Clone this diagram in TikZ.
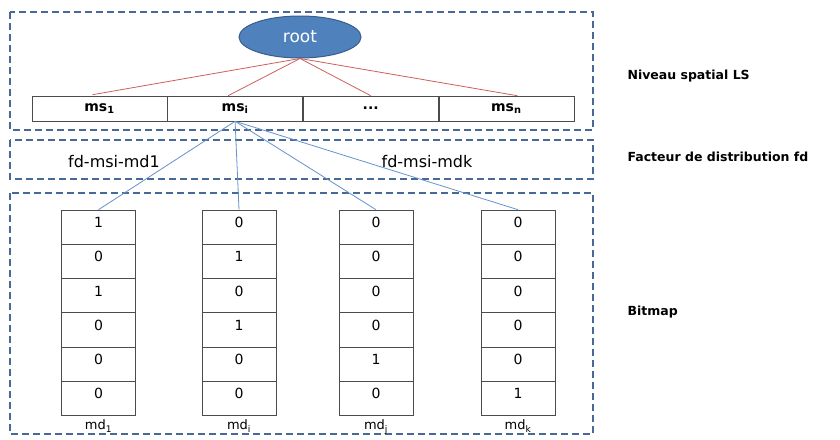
\documentclass[tikz,border=0pt]{standalone}
\usepackage{fontspec}
\setmainfont{DejaVu Sans}
\usetikzlibrary{positioning,shapes.geometric}
\definecolor{zoneblue}{RGB}{70,105,150}
\definecolor{rootfill}{RGB}{79,129,189}
\definecolor{rootline}{RGB}{56,93,138}
\definecolor{lsred}{RGB}{205,95,90}
\definecolor{lsblue}{RGB}{100,145,205}

\begin{document}
\begin{tikzpicture}[x=1pt,y=1pt,
    zone/.style={draw=zoneblue,line width=1.4pt,dash pattern=on 7pt off 4pt},
    rootnode/.style={ellipse,draw=rootline,fill=rootfill,line width=1pt,minimum width=122pt,minimum height=42pt,text=white,font=\fontsize{17}{19}\selectfont},
    mscell/.style={rectangle,draw=black!70,line width=0.6pt,minimum width=135pt,minimum height=25pt,inner sep=0pt,font=\bfseries\fontsize{14}{16}\selectfont},
    bitcell/.style={rectangle,draw=black!70,line width=0.6pt,minimum width=74pt,minimum height=34.2pt,inner sep=0pt,text height=10pt,text depth=9pt,font=\fontsize{14}{16}\selectfont},
    layer/.style={anchor=west,font=\bfseries\fontsize{12.5}{15}\selectfont},
    fdlabel/.style={font=\fontsize{16}{18}\selectfont},
    mdlabel/.style={font=\fontsize{13}{15}\selectfont},
    redlink/.style={draw=lsred,line width=0.8pt},
    bluelink/.style={draw=lsblue,line width=0.8pt}]
    \useasboundingbox (0,0) rectangle (840,-439);
    % the three levels
    \draw[zone] (10,-12) rectangle (593,-130);
    \draw[zone] (10,-140) rectangle (593,-179);
    \draw[zone] (10,-193) rectangle (593,-434);
    \node[layer] (lvl1) at (624,-76)  {Niveau spatial LS};
    \node[layer] (lvl2) at (624,-157) {Facteur de distribution fd};
    \node[layer] (lvl3) at (624,-312) {Bitmap};
    % spatial level
    \node[rootnode] (root) at (300,-37) {root};
    \node[mscell] (ms1) at (99.5,-108.5) {ms\textsubscript{1}};
    \node[mscell,right=0pt of ms1] (msi) {ms\textsubscript{i}};
    \node[mscell,right=0pt of msi] (msdots) {...};
    \node[mscell,right=0pt of msdots] (msn) {ms\textsubscript{n}};
    \draw[redlink] (root.south) -- ([xshift=-7pt,yshift=1pt]ms1.north);
    \draw[redlink] (root.south) -- ([xshift=-7pt]msi.north);
    \draw[redlink] (root.south) -- (msdots.north);
    \draw[redlink] (root.south) -- ([xshift=11pt]msn.north);
    % distribution factor
    \node[fdlabel] (fd1) at (114,-162) {fd-msi-md1};
    \node[fdlabel] (fdk) at (427,-162) {fd-msi-mdk};
    % bitmap columns
    \foreach \c/\x/\vals/\sub in {1/98.5/{1,0,1,0,0,0}/1, 2/239/{0,1,0,1,0,0}/i,
                                  3/376/{0,0,0,0,1,0}/j, 4/518/{0,0,0,0,0,1}/k}{
        \foreach \v [count=\r] in \vals
            \node[bitcell] (md\c-\r) at (\x,{-227.1-34.2*(\r-1)}) {\v};
        \node[mdlabel,below=1pt of md\c-6] (lab\c) {md\textsubscript{\sub}};
        \draw[bluelink] (msi.south) -- (md\c-1.north);
    }
\end{tikzpicture}
\end{document}
